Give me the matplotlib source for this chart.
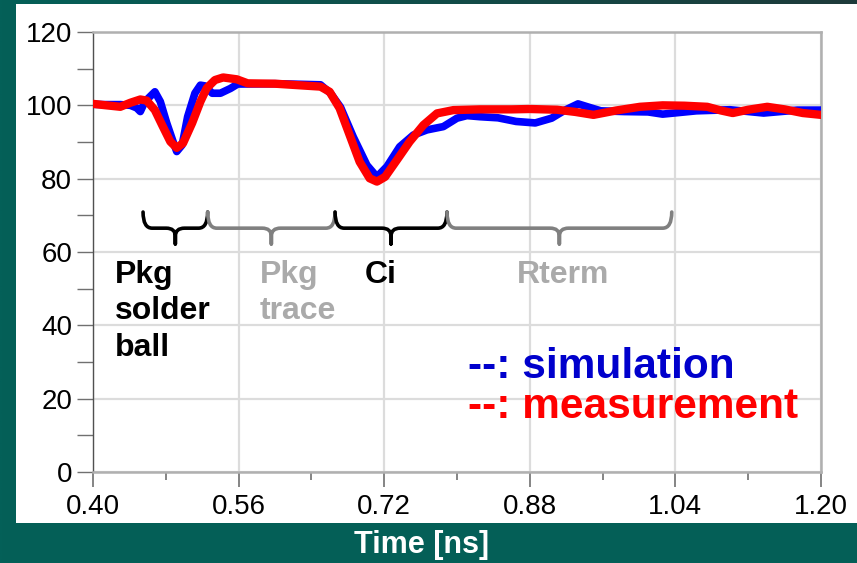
import numpy as np
import matplotlib
matplotlib.use("Agg")
import matplotlib.pyplot as plt
from matplotlib.path import Path
from matplotlib.patches import PathPatch, Rectangle

plt.rcParams['font.family'] = ['Liberation Sans', 'DejaVu Sans']

# simulated TDR impedance (ohm) vs time (ns)
sim_t = [0.400, 0.411, 0.430, 0.441, 0.448, 0.452, 0.457, 0.468, 0.474, 0.481,
         0.488, 0.492, 0.498, 0.504, 0.512, 0.518, 0.523, 0.531, 0.540, 0.551,
         0.559, 0.600, 0.650, 0.661, 0.672, 0.686, 0.701, 0.712, 0.723, 0.737,
         0.752, 0.767, 0.785, 0.800, 0.811, 0.825, 0.845, 0.865, 0.886, 0.904,
         0.918, 0.933, 0.946, 0.958, 0.984, 1.010, 1.026, 1.063, 1.100, 1.137,
         1.174, 1.200]
sim_z = [100.3, 100.2, 100.2, 100.0, 99.3, 98.3, 101.0, 103.7, 101.0, 95.2,
         90.1, 87.4, 89.2, 96.9, 103.3, 105.5, 105.3, 103.3, 103.3, 104.6,
         105.8, 105.9, 105.6, 103.3, 99.5, 91.4, 83.7, 80.5, 83.3, 88.7,
         91.9, 93.3, 94.2, 96.5, 97.2, 96.9, 96.6, 95.6, 95.2, 96.5,
         98.6, 100.4, 99.4, 98.5, 98.3, 98.2, 97.6, 98.5, 98.8, 97.9,
         98.7, 98.7]

# measured TDR impedance (ohm) vs time (ns)
meas_t = [0.400, 0.411, 0.430, 0.441, 0.452, 0.459, 0.468, 0.476, 0.485, 0.492,
          0.499, 0.509, 0.518, 0.525, 0.534, 0.543, 0.558, 0.570, 0.600, 0.650,
          0.660, 0.671, 0.682, 0.693, 0.704, 0.712, 0.721, 0.734, 0.748, 0.763,
          0.778, 0.796, 0.825, 0.860, 0.880, 0.910, 0.930, 0.950, 0.975, 1.001,
          1.026, 1.050, 1.075, 1.090, 1.103, 1.120, 1.141, 1.160, 1.180, 1.200]
meas_z = [100.4, 100.1, 99.6, 100.7, 101.6, 101.3, 98.7, 94.6, 90.1, 88.4,
          89.7, 95.2, 101.0, 104.7, 106.9, 107.6, 107.1, 106.0, 105.9, 105.1,
          103.7, 99.2, 91.9, 84.6, 80.1, 79.2, 80.5, 85.1, 90.1, 94.6,
          97.8, 98.7, 98.9, 98.9, 99.0, 98.8, 98.2, 97.4, 98.6, 99.6,
          100.0, 99.9, 99.6, 98.6, 97.9, 98.8, 99.6, 98.9, 97.9, 97.4]

region_labels = ["Pkg\nsolder\nball", "Pkg\ntrace", "Ci", "Rterm"]
region_start = [0.455, 0.526, 0.666, 0.789]
region_end = [0.526, 0.666, 0.789, 1.036]

x_ticks = [0.40, 0.56, 0.72, 0.88, 1.04, 1.20]
y_ticks = [0, 20, 40, 60, 80, 100, 120]


def brace(ax, x0, x1, color):
    """Accolade horizontale, pointe vers le bas."""
    yt, ym, yb = 70.9, 66.5, 62.2
    r = 0.010
    xc = (x0 + x1) / 2
    verts = [(x0, yt), (x0, ym), (x0 + r, ym),
             (xc - r, ym),
             (xc, ym), (xc, ym - 2.2),
             (xc, yb),
             (xc, ym - 2.2),
             (xc, ym), (xc + r, ym),
             (x1 - r, ym),
             (x1, ym), (x1, yt)]
    codes = [Path.MOVETO, Path.CURVE3, Path.CURVE3,
             Path.LINETO,
             Path.CURVE3, Path.CURVE3,
             Path.LINETO,
             Path.LINETO,
             Path.CURVE3, Path.CURVE3,
             Path.LINETO,
             Path.CURVE3, Path.CURVE3]
    ax.add_patch(PathPatch(Path(verts, codes), fill=False, edgecolor=color,
                           lw=2.6, capstyle='round', joinstyle='round', zorder=4))


fig = plt.figure(figsize=(8.57, 5.63), dpi=100)

# fond dégradé vert/ardoise
bg = fig.add_axes([0, 0, 1, 1], zorder=-10)
gx, gy = np.meshgrid(np.linspace(0, 1, 200), np.linspace(0, 1, 200))
t = (gx * (1 - gy) ** 2)[..., None]
c0 = np.array([0x04, 0x60, 0x58]) / 255
c1 = np.array([0x1e, 0x3a, 0x3a]) / 255
bg.imshow(c0 * (1 - t) + c1 * t, aspect='auto', extent=[0, 1, 0, 1])
bg.axis('off')

fig.patches.append(Rectangle((16 / 857, 1 - 523 / 563), 1 - 16 / 857, 519 / 563,
                             transform=fig.transFigure, facecolor='white',
                             edgecolor='none', zorder=-5))

ax = fig.add_axes([93 / 857, 1 - 472 / 563, 728 / 857, 440 / 563])
ax.set_facecolor('none')

ax.plot(sim_t, sim_z, color='#0000ff', lw=5.5, solid_joinstyle='round',
        solid_capstyle='round', zorder=5)
ax.plot(meas_t, meas_z, color='#ff0000', lw=6, solid_joinstyle='round',
        solid_capstyle='round', zorder=6)

ax.set_xlim(0.40, 1.20)
ax.set_ylim(0, 120)
ax.set_xticks(x_ticks)
ax.set_xticklabels(["%.2f" % v for v in x_ticks])
ax.set_xticks(np.arange(0.48, 1.2, 0.16), minor=True)
ax.set_yticks(y_ticks)
ax.set_yticks(np.arange(10, 120, 20), minor=True)

ax.grid(True, which='major', color='#dcdcdc', lw=1.6, zorder=0)
ax.tick_params(axis='y', which='both', direction='out', length=11.5, width=1,
               color='#707070', labelsize=20, pad=3.5)
ax.tick_params(axis='x', which='major', direction='out', length=11, width=1.2,
               color='#707070', labelsize=20, pad=5)
ax.tick_params(axis='x', which='minor', direction='out', length=6, width=1.2,
               color='#707070')
ax.spines['left'].set_color('#505050')
ax.spines['left'].set_linewidth(1)
for s in ['top', 'right', 'bottom']:
    ax.spines[s].set_color('#b0b0b0')
    ax.spines[s].set_linewidth(1.8)

brace_colors = ['black', '#808080', 'black', '#808080']
label_colors = ['black', '#aaaaaa', 'black', '#aaaaaa']
label_x = [0.424, 0.5835, 0.699, 0.866]
for lab, x0, x1, bc, lc, lx in zip(region_labels, region_start, region_end,
                                   brace_colors, label_colors, label_x):
    brace(ax, x0, x1, bc)
    ax.text(lx, 57.9, lab, color=lc, fontsize=23, fontweight='bold',
            ha='left', va='top', linespacing=1.28)

ax.text(0.812, 25.6, "--: simulation", color='#0000cc', fontsize=30.5,
        fontweight='bold', va='baseline')
ax.text(0.812, 14.7, "--: measurement", color='#ff0000', fontsize=30.5,
        fontweight='bold', va='baseline')

fig.text(422 / 857, 1 - 545 / 563, "Time [ns]", color='white', fontsize=22,
         fontweight='bold', ha='center', va='center')

fig.savefig("out.png", dpi=100)
